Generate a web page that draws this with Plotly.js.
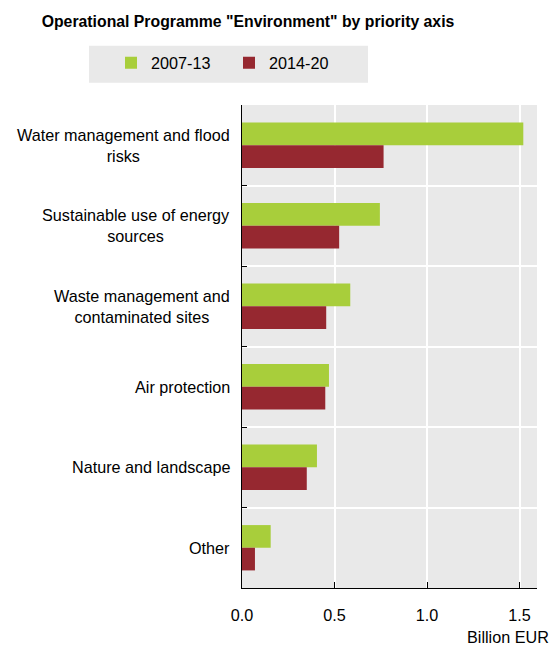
<!DOCTYPE html>
<html><head><meta charset="utf-8">
<script src="https://cdn.plot.ly/plotly-3.0.1.min.js"></script>
<style>html,body{margin:0;padding:0;background:#fff}</style>
</head><body>
<div id="chart" style="width:552px;height:645px"></div>
<script>
const categories = ["Water management and flood<br>risks", "Sustainable use of energy<br>sources", "Waste management and<br>contaminated sites", "Air protection", "Nature and landscape", "Other"];
const values2007_13 = [1.52, 0.745, 0.585, 0.47, 0.405, 0.155];
const values2014_20 = [0.765, 0.525, 0.455, 0.45, 0.35, 0.07];
const seriesNames = ["2007-13", "2014-20"];
const xTickVals = [0, 0.5, 1, 1.5];
const xTickText = ["0.0", "0.5", "1.0", "1.5"];
const chartTitle = 'Operational Programme "Environment" by priority axis';
const xUnit = "Billion EUR";

const FONT = '"Liberation Sans", Arial, sans-serif';
const FS = 16.2;
const GREEN = '#a8ce3b';
const RED = '#962830';

const traces = [
  {type:'bar', orientation:'h', name:seriesNames[0], y:categories, x:values2007_13,
   marker:{color:GREEN, line:{width:0}}, hoverinfo:'skip'},
  {type:'bar', orientation:'h', name:seriesNames[1], y:categories, x:values2014_20,
   marker:{color:RED, line:{width:0}}, hoverinfo:'skip'}
];

const L = 242, R = 15, T = 105, B = 57, W = 552, H = 645;
const pw = W - L - R, ph = H - T - B;
const px2x = px => (px - L) / pw;
const py2y = py => (H - B - py) / ph;

const annotations = categories.map(c => ({
  xref:'paper', x:0, xanchor:'right', xshift:-10,
  yref:'y', y:c, yanchor:'middle',
  text:c, align:'center', showarrow:false,
  font:{family:FONT, size:FS, color:'#000'}
}));
annotations.push({
  xref:'paper', x:px2x(551), xanchor:'right',
  yref:'paper', y:py2y(637), yanchor:'middle',
  text:xUnit, showarrow:false, font:{family:FONT, size:FS, color:'#000'}
});

const layout = {
  width:W, height:H,
  margin:{l:L, r:R, t:T, b:B, pad:0},
  paper_bgcolor:'#ffffff', plot_bgcolor:'#e9e9e9',
  barmode:'group', bargap:0.437, bargroupgap:0,
  font:{family:FONT, size:FS, color:'#000'},
  title:{text:'<b>' + chartTitle + '</b>', font:{family:FONT, size:15.8, color:'#000'},
         xref:'container', x:248/W, xanchor:'center',
         yref:'container', y:1 - 21.5/H, yanchor:'middle'},
  xaxis:{range:[0, 1.594], tickmode:'array', tickvals:xTickVals, ticktext:xTickText,
         ticks:'inside', ticklen:6, tickcolor:'#000', tickwidth:1,
         showline:true, linecolor:'#000', linewidth:1,
         showgrid:true, gridcolor:'#ffffff', gridwidth:2, zeroline:false,
         ticklabelstandoff:13,
         tickfont:{family:FONT, size:FS, color:'#000'}, fixedrange:true},
  yaxis:{type:'category', autorange:'reversed', tickson:'boundaries',
         ticks:'inside', ticklen:5, tickcolor:'#000', tickwidth:1,
         showline:true, linecolor:'#000', linewidth:1,
         showgrid:true, gridcolor:'#ffffff', gridwidth:2,
         showticklabels:false, fixedrange:true},
  legend:{orientation:'h', xref:'container', x:111/W, xanchor:'left',
          yref:'container', y:1 - 63.3/H, yanchor:'middle',
          bgcolor:'rgba(0,0,0,0)', font:{family:FONT, size:FS, color:'#000'},
          entrywidth:73, entrywidthmode:'pixels', itemclick:false, itemdoubleclick:false},
  shapes:[{type:'rect', xref:'paper', yref:'paper',
           x0:px2x(89), x1:px2x(368), y0:py2y(82.7), y1:py2y(45.7),
           fillcolor:'#e9e9e9', line:{width:0}, layer:'below'}],
  annotations:annotations
};

Plotly.newPlot('chart', traces, layout, {displayModeBar:false, staticPlot:true});
</script>
</body></html>
